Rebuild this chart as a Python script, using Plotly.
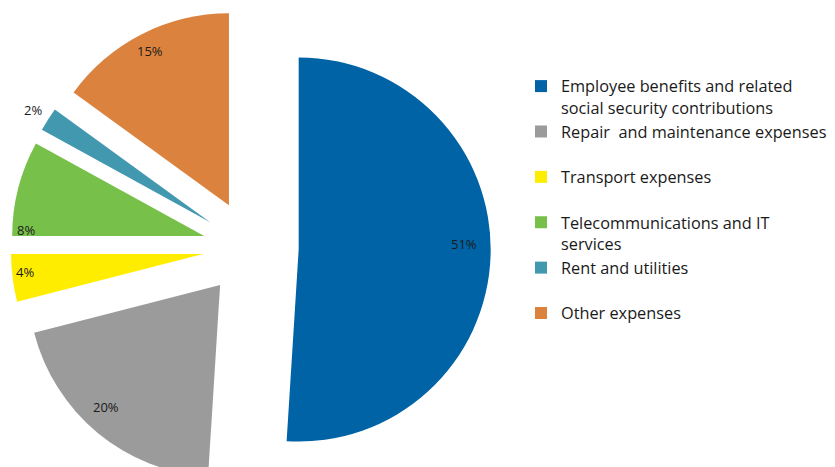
import math
import plotly.graph_objects as go

categories = [
    "Employee benefits and related<br>social security contributions",
    "Repair  and maintenance expenses<br> ",
    "Transport expenses<br> ",
    "Telecommunications and IT<br>services",
    "Rent and utilities<br> ",
    "Other expenses",
]
values = [51, 20, 4, 8, 2, 15]
colors = ["#0063A6", "#9B9B9B", "#FFED00", "#77C04A", "#4298AF", "#DB833E"]

# label placement style (radius factor, angular fraction within slice)
label_r = [0.86, 0.87, 0.93, 0.93, 1.09, 0.90]
label_f = [0.48, 0.55, 0.6, 0.07, 0.5, 0.5]

W, H = 870, 480
PULL = 0.25
CX = 242.7
dom_x = [(CX - H / 2) / W, (CX + H / 2) / W]

fig = go.Figure(go.Pie(
    labels=categories,
    values=values,
    marker=dict(colors=colors, line=dict(width=0)),
    sort=False,
    direction="clockwise",
    rotation=0,
    pull=[PULL] * len(values),
    textinfo="none",
    hoverinfo="label+percent",
    domain=dict(x=dom_x, y=[0, 1]),
))

# pie geometry (same rules as plotly.js) to place percentage labels
cx = W * (dom_x[0] + dom_x[1]) / 2
cy = H / 2
r = min(W * (dom_x[1] - dom_x[0]), H) / 2 / (1 + PULL)
total = sum(values)
cum = 0
for v, lr, lf in zip(values, label_r, label_f):
    s = cum / total
    e = (cum + v) / total
    cum += v
    mid = 2 * math.pi * (s + e) / 2
    ang = 2 * math.pi * (s + lf * (e - s))
    vx = cx + PULL * r * math.sin(mid)
    vy = cy - PULL * r * math.cos(mid)
    px = vx + lr * r * math.sin(ang)
    py = vy - lr * r * math.cos(ang)
    fig.add_annotation(
        x=px / W, y=1 - py / H, xref="paper", yref="paper",
        xanchor="center", yanchor="middle",
        text=f"{round(100 * v / total)}%", showarrow=False,
        font=dict(size=13, color="#1a1a1a", family="Open Sans"),
    )

fig.update_layout(
    width=W, height=H,
    margin=dict(l=0, r=0, t=0, b=0),
    paper_bgcolor="white",
    plot_bgcolor="white",
    font=dict(family="Open Sans", color="#1a1a1a"),
    showlegend=True,
    legend=dict(
        x=513 / W, y=1 - 61 / H, xanchor="left", yanchor="top",
        valign="top",
        font=dict(size=16.3, family="Open Sans", color="#1a1a1a"),
        bgcolor="rgba(0,0,0,0)",
        traceorder="normal",
    ),
)

fig.write_html("out.html")
